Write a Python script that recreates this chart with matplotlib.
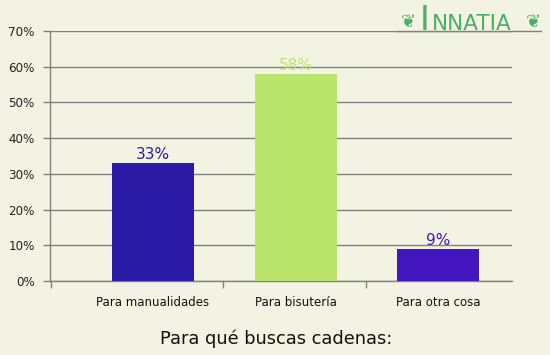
import matplotlib.pyplot as plt
from matplotlib.ticker import FixedLocator

categories = ["Para manualidades", "Para bisutería", "Para otra cosa"]
values = [33, 58, 9]
colors = ["#2A1AA5", "#BAE56C", "#4416BF"]
yticks = [0, 10, 20, 30, 40, 50, 60, 70]
title = "Para qué buscas cadenas:"

bg = "#F3F3E3"
grey = "#808080"

fig = plt.figure(figsize=(5.5, 3.55), dpi=100, facecolor=bg)
ax = fig.add_axes([50 / 550, 1 - 281 / 355, 462 / 550, 250 / 355])
ax.set_facecolor(bg)

x = range(len(categories))
ax.bar(x, values, width=0.575, color=colors, zorder=3)

for xi, v, c in zip(x, values, colors):
    ax.text(xi, v + 0.2, f"{v}%", ha="center", va="bottom", color=c,
            fontsize=11, zorder=4)

ax.set_ylim(0, 70)
ax.set_xlim(-0.72, 2.516)
ax.set_yticks(yticks)
ax.set_yticklabels([f"{t}%" for t in yticks], fontsize=8.6, color="#222222")
ax.yaxis.grid(True, color=grey, linewidth=1, zorder=1)

ax.set_xticks(list(x))
ax.set_xticklabels(categories, fontsize=8.5, color="#111111")
ax.tick_params(axis="x", which="major", length=0, pad=11)
ax.xaxis.set_minor_locator(FixedLocator([-0.715, 0.49, 1.49]))
ax.tick_params(axis="x", which="minor", length=5, color=grey, width=1)
ax.tick_params(axis="y", length=5, color=grey, width=1, pad=6)

for s in ["top", "right"]:
    ax.spines[s].set_visible(False)
for s in ["left", "bottom"]:
    ax.spines[s].set_color(grey)
    ax.spines[s].set_linewidth(1)

fig.text(0.503, 1 - 339 / 355, title, ha="center", va="center", fontsize=12.8,
         color="#111111")

# logo
green = "#4CAF62"
fig.text(408 / 550, 1 - 22 / 355, "❦", ha="center", va="center",
         fontsize=13, color=green)
fig.text(425 / 550, 1 - 30 / 355, "I", ha="center", va="baseline",
         fontsize=24, color=green)
fig.text(432 / 550, 1 - 30 / 355, "NNATIA", ha="left", va="baseline",
         fontsize=15.5, color=green)
fig.text(533 / 550, 1 - 22 / 355, "❦", ha="center", va="center",
         fontsize=13, color=green)
fig.add_artist(plt.Line2D([397 / 550, 541 / 550], [1 - 31 / 355] * 2,
                          color=grey, linewidth=1))

fig.savefig("out.png", dpi=100, facecolor=bg)
